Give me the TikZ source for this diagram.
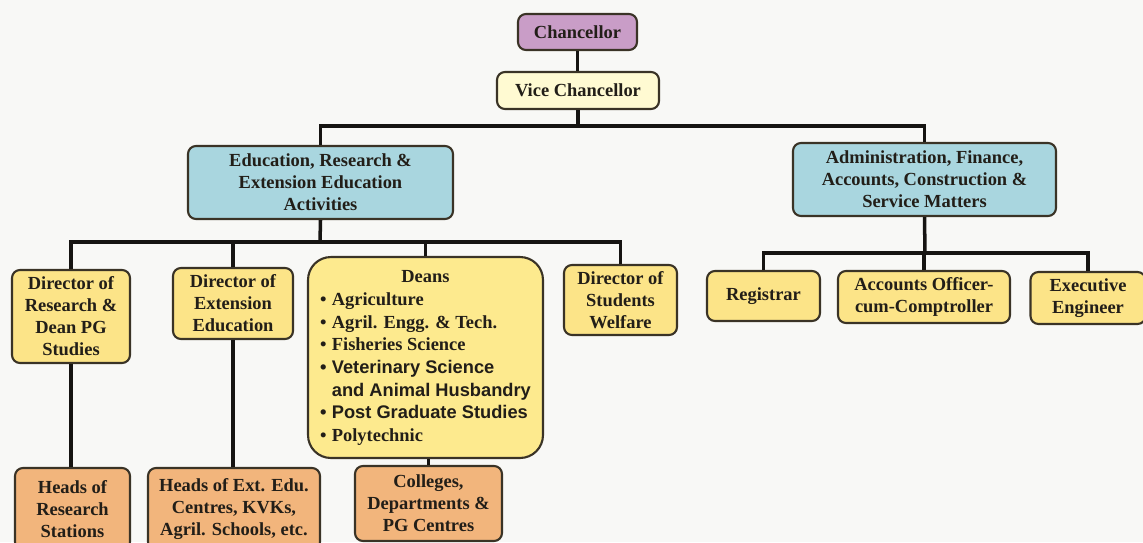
\documentclass[tikz,border=0pt]{standalone}
\usepackage{fontspec}
\setmainfont{Liberation Serif}
\newfontfamily\sansb{Liberation Sans}
\definecolor{bg}{HTML}{F8F8F6}
\definecolor{purp}{HTML}{C99DC7}
\definecolor{paley}{HTML}{FFFAD2}
\definecolor{blu}{HTML}{A9D6DF}
\definecolor{yel}{HTML}{FCE488}
\definecolor{yel2}{HTML}{FDEA8E}
\definecolor{ora}{HTML}{F2B57C}
\definecolor{edge}{HTML}{3A3326}
\definecolor{ink}{HTML}{221E18}
\definecolor{lin}{HTML}{161412}
\tikzset{
  box/.style={draw=edge, line width=1.2pt, rounded corners=4.5pt, inner sep=1pt,
    align=center, font=\fontsize{10.5}{12.5}\selectfont\bfseries, text=ink},
  conn/.style={draw=lin, line width=2pt}
}
\begin{document}
\begin{tikzpicture}[x=0.02cm,y=-0.02cm]
\clip (0,0) rectangle (1143,542);
\fill[bg] (0,0) rectangle (1143,542);
% top
\node[box, fill=purp, minimum width=2.38cm, minimum height=0.72cm] (chan) at (577.5,32) {Chancellor};
\node[box, fill=paley, minimum width=3.24cm, minimum height=0.74cm] (vc) at (578,90.5) {Vice Chancellor};
\node[box, fill=blu, minimum width=5.3cm, minimum height=1.46cm] (edu) at (320.5,182.5) {Education, Research \&\\Extension Education\\Activities};
\node[box, fill=blu, minimum width=5.26cm, minimum height=1.46cm] (adm) at (924.5,179.5) {Administration, Finance,\\Accounts, Construction \&\\Service Matters};
% second level left
\node[box, fill=yel, minimum width=2.36cm, minimum height=1.86cm] (dres) at (71,316.5) {Director of\\Research \&\\Dean PG\\Studies};
\node[box, fill=yel, minimum width=2.4cm, minimum height=1.42cm] (dext) at (233,303.5) {Director of\\Extension\\Education};
\node[box, fill=yel2, rounded corners=13pt, minimum width=4.7cm, minimum height=4.02cm, font=\fontsize{10.5}{12.9}\selectfont\bfseries] (deans) at (425.5,357.5) {%
\begin{tabular}{@{}l@{\hspace{3pt}}l@{}}
\multicolumn{2}{c}{Deans}\\
\textbullet & Agriculture\\
\textbullet & Agril. Engg. \& Tech.\\
\textbullet & Fisheries Science\\
{\sansb\textbullet} & {\sansb\fontsize{10.4}{12.9}\selectfont Veterinary Science}\\
 & {\sansb\fontsize{10.4}{12.9}\selectfont and Animal Husbandry}\\
{\sansb\textbullet} & {\sansb\fontsize{10.4}{12.9}\selectfont Post Graduate Studies}\\
\textbullet & Polytechnic
\end{tabular}};
\node[box, fill=yel, minimum width=2.26cm, minimum height=1.4cm] (dsw) at (620.5,300) {Director of\\Students\\Welfare};
% second level right
\node[box, fill=yel, minimum width=2.26cm, minimum height=1.0cm] (reg) at (763.5,296) {Registrar};
\node[box, fill=yel, minimum width=3.44cm, minimum height=1.04cm] (acc) at (924,297) {Accounts Officer-\\cum-Comptroller};
\node[box, fill=yel, minimum width=2.3cm, minimum height=1.04cm] (exe) at (1088,298) {Executive\\Engineer};
% bottom
\node[box, fill=ora, minimum width=2.3cm, minimum height=1.64cm] (hrs) at (72.5,509) {Heads of\\Research\\Stations};
\node[box, fill=ora, minimum width=3.44cm, minimum height=1.64cm] (hext) at (234,509) {Heads of Ext. Edu.\\Centres, KVKs,\\Agril. Schools, etc.};
\node[box, fill=ora, minimum width=2.94cm, minimum height=1.5cm] (col) at (428.5,503.5) {Colleges,\\Departments \&\\PG Centres};
% connectors
\coordinate (j1) at (578,126);
\coordinate (j2) at (320,242);
\coordinate (j3) at (925,253);
\draw[conn] (chan.south) -- (chan.south |- vc.north);
\draw[conn] (vc.south) -- (j1);
\draw[conn] (edu.north) -- (edu.north |- j1) -- (adm.north |- j1) -- (adm.north);
\draw[conn] (edu.south) -- (j2);
\draw[conn] (dres.north) -- (dres.north |- j2) -- (dsw.north |- j2) -- (dsw.north);
\draw[conn] (dext.north |- j2) -- (dext.north);
\draw[conn] (deans.north |- j2) -- (deans.north);
\draw[conn] (adm.south) -- (j3);
\draw[conn] (reg.north) -- (reg.north |- j3) -- (exe.north |- j3) -- (exe.north);
\draw[conn] (acc.north |- j3) -- (acc.north);
\draw[conn] (dres.south) -- (dres.south |- hrs.north);
\draw[conn] (dext.south) -- (dext.south |- hext.north);
\draw[conn] (col.north) -- (col.north |- deans.south);
\end{tikzpicture}
\end{document}
